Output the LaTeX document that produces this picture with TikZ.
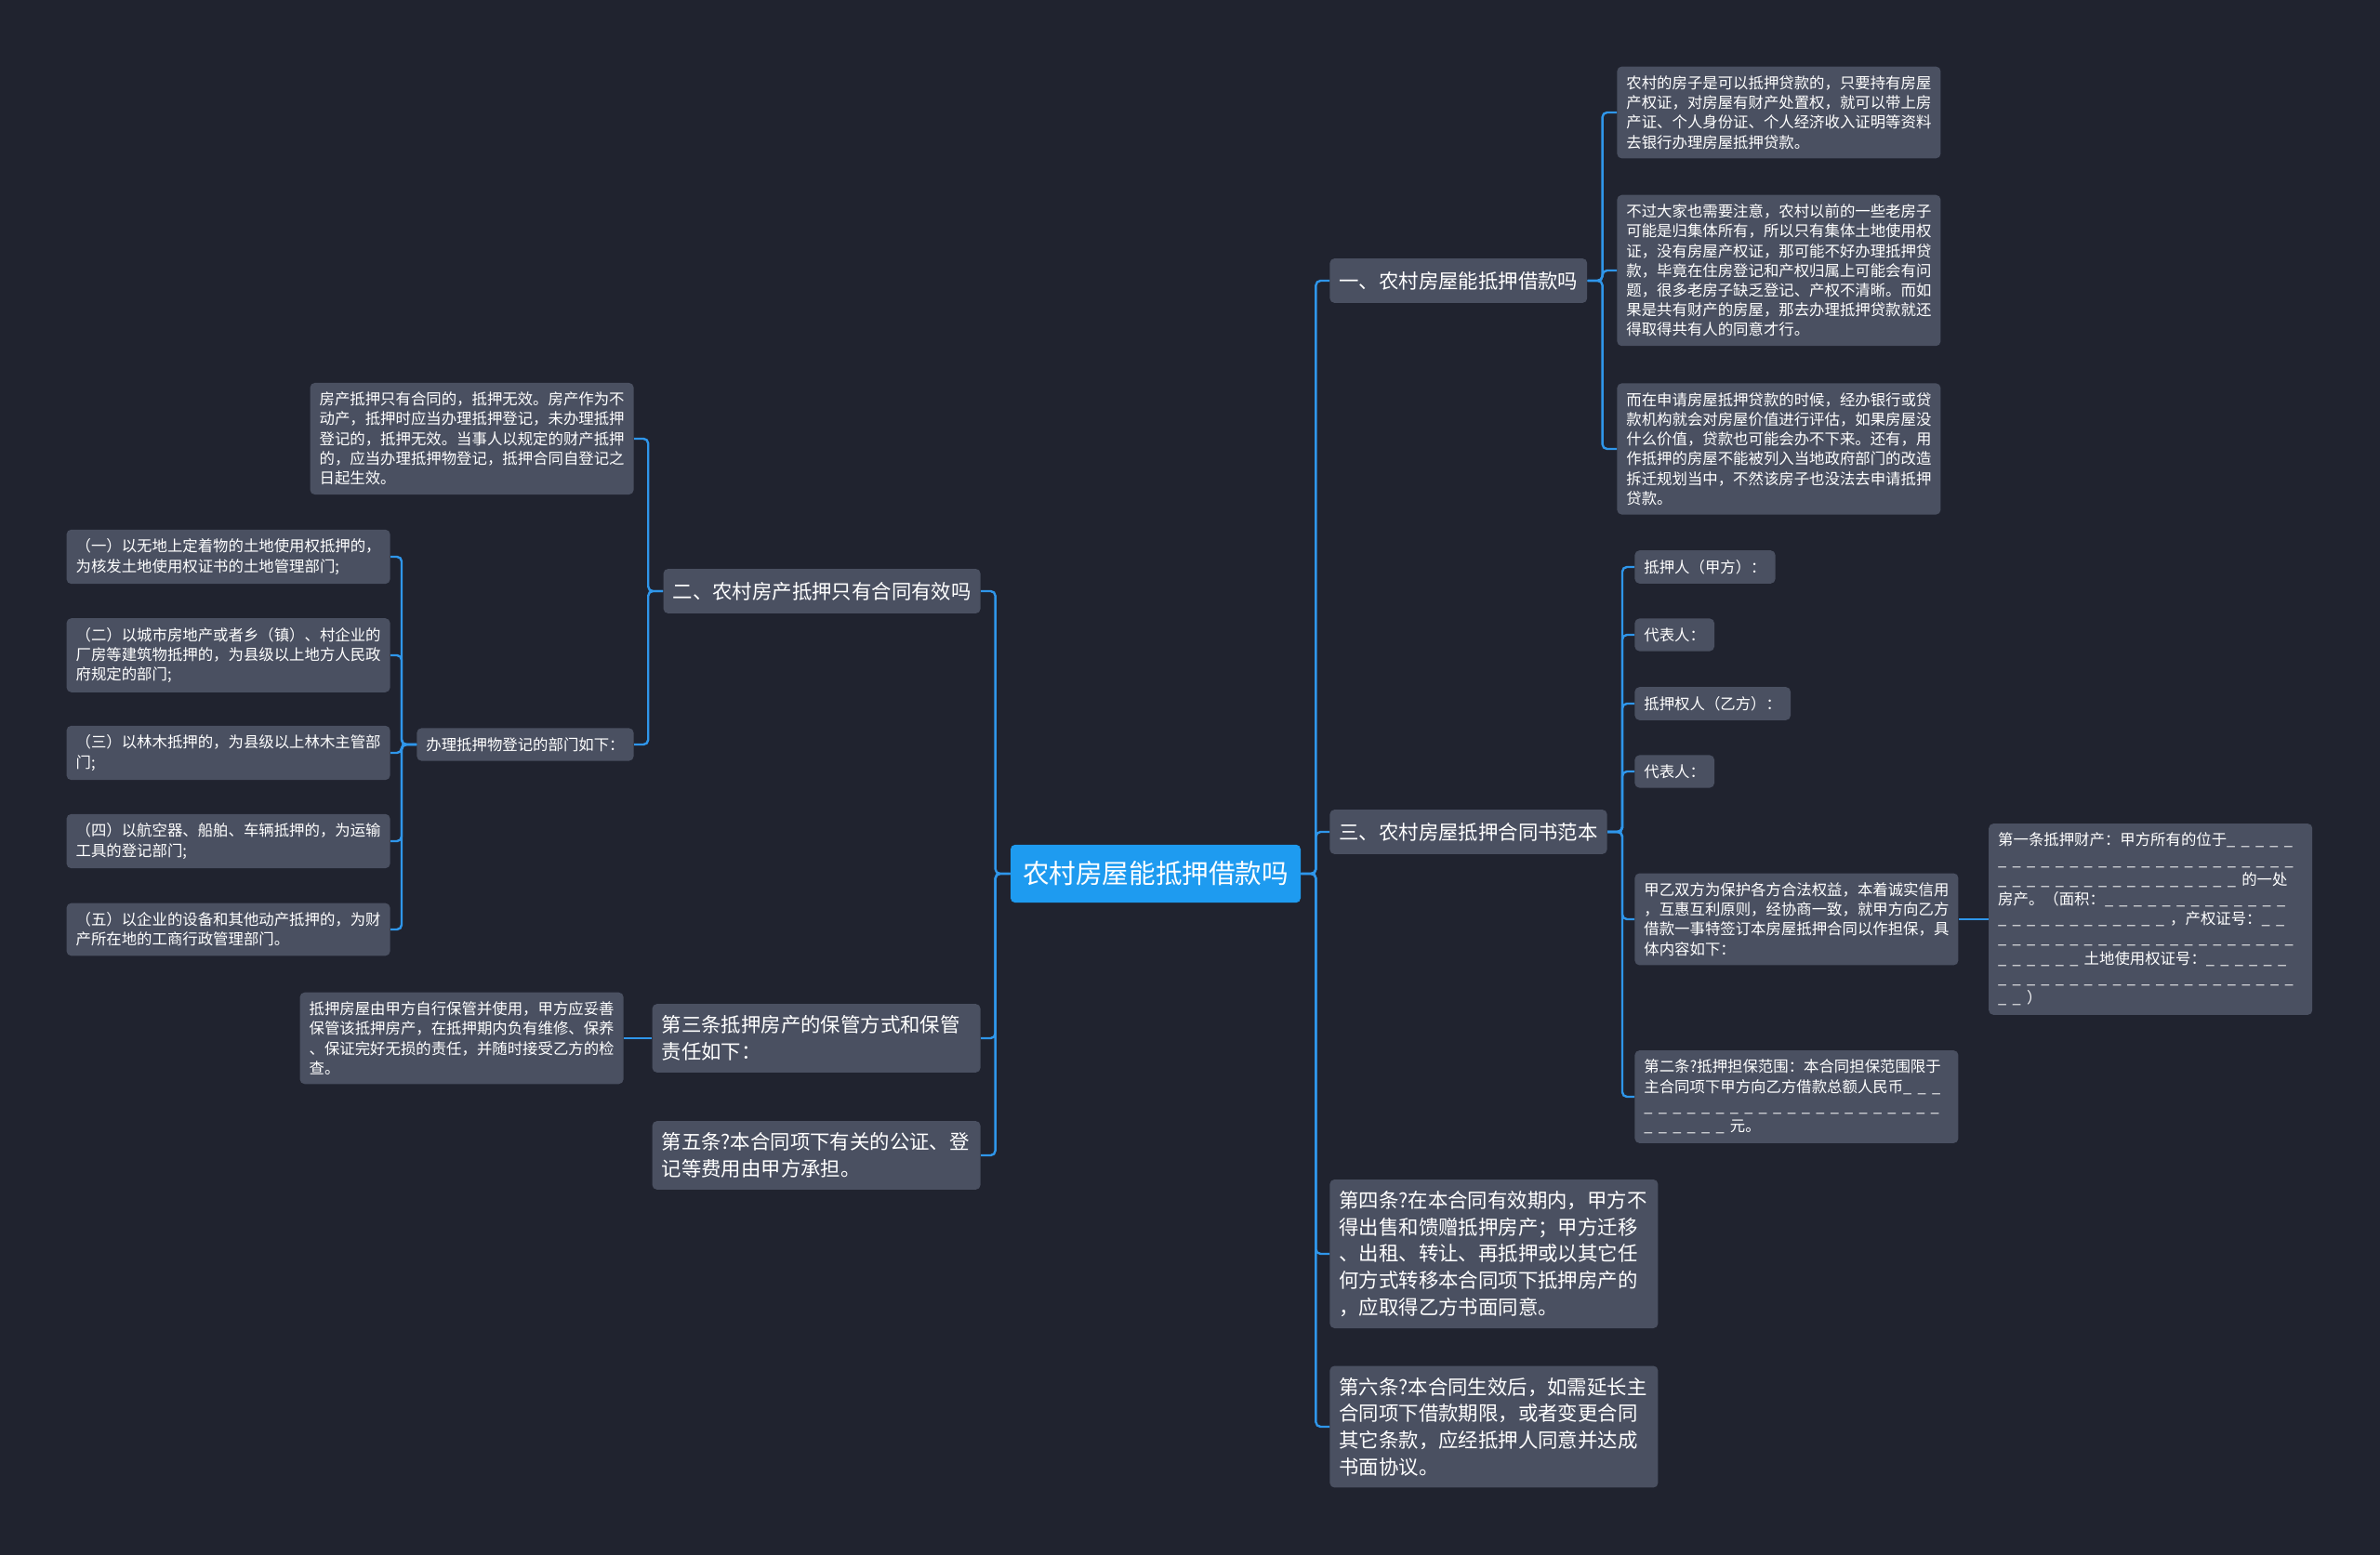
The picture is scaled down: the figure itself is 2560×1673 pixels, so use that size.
\documentclass[tikz,border=0pt]{standalone}
\usepackage{fontspec}
\newfontfamily\cjk{Noto Sans CJK SC}
\usetikzlibrary{positioning}
\definecolor{bgdark}{HTML}{20232F}
\definecolor{boxgray}{HTML}{4A5061}
\definecolor{rootblue}{HTML}{1E9BF0}
\definecolor{linkblue}{HTML}{2F96EA}
\newcommand\blanks[1]{\foreach \k in {1,...,#1}{\makebox[0.94em][l]{\_}}}

\begin{document}
\begin{tikzpicture}[
    x=0.5pt, y=-0.5pt,
    card/.style={fill=boxgray, rounded corners=2.5pt, text=white, inner xsep=5pt, align=left},
    topic/.style={fill=rootblue, rounded corners=2.5pt, text=white, inner xsep=6.5pt, inner ysep=9pt, font=\cjk\fontsize{14.3}{17}\selectfont},
    branch/.style={card, inner ysep=7pt, font=\cjk\fontsize{10.7}{14.3}\selectfont},
    clause/.style={card, inner ysep=6.3pt, text width=166.5pt, font=\cjk\fontsize{10.7}{14.3}\selectfont},
    note/.style={card, inner ysep=5pt, text width=164pt, font=\cjk\fontsize{8.2}{10.6}\selectfont},
    tag/.style={card, inner ysep=5pt, font=\cjk\fontsize{8.2}{10.6}\selectfont},
    link/.style={draw=linkblue, line width=1.2pt, rounded corners=2.5pt},
  ]
  \fill[bgdark] (0,0) rectangle (2560,1673);

  % centre topic
  \node[topic] (root) at (1243,940) {农村房屋能抵押借款吗};

  % right side, first branch
  \node[branch, anchor=west] (q1) at (1430,302) {一、农村房屋能抵押借款吗};
  \node[note, anchor=west] (q1a) at (1739,121) {农村的房子是可以抵押贷款的，只要持有房屋\\产权证，对房屋有财产处置权，就可以带上房\\产证、个人身份证、个人经济收入证明等资料\\去银行办理房屋抵押贷款。};
  \node[note, anchor=west] (q1b) at (1739,291) {不过大家也需要注意，农村以前的一些老房子\\可能是归集体所有，所以只有集体土地使用权\\证，没有房屋产权证，那可能不好办理抵押贷\\款，毕竟在住房登记和产权归属上可能会有问\\题，很多老房子缺乏登记、产权不清晰。而如\\果是共有财产的房屋，那去办理抵押贷款就还\\得取得共有人的同意才行。};
  \node[note, anchor=west] (q1c) at (1739,483) {而在申请房屋抵押贷款的时候，经办银行或贷\\款机构就会对房屋价值进行评估，如果房屋没\\什么价值，贷款也可能会办不下来。还有，用\\作抵押的房屋不能被列入当地政府部门的改造\\拆迁规划当中，不然该房子也没法去申请抵押\\贷款。};

  % right side, contract sample
  \node[branch, anchor=west] (q3) at (1430,895) {三、农村房屋抵押合同书范本};
  \node[tag, anchor=west] (party1) at (1758,610) {抵押人（甲方）：};
  \node[tag, anchor=west] (rep1) at (1758,683) {代表人：};
  \node[tag, anchor=west] (party2) at (1758,757) {抵押权人（乙方）：};
  \node[tag, anchor=west] (rep2) at (1758,830) {代表人：};
  \node[note, anchor=west] (preamble) at (1758,989) {甲乙双方为保护各方合法权益，本着诚实信用\\，互惠互利原则，经协商一致，就甲方向乙方\\借款一事特签订本房屋抵押合同以作担保，具\\体内容如下：};
  \node[note, right=16pt of preamble] (art1) {第一条抵押财产：甲方所有的位于\blanks{5}\\\blanks{21}\\\blanks{17}的一处\\房产。（面积：\blanks{13}\\\blanks{12}，产权证号：\blanks{2}\\\blanks{21}\\\blanks{6}土地使用权证号：\blanks{6}\\\blanks{21}\\\blanks{2}）};
  \node[note, anchor=west] (art2) at (1758,1180) {第二条?抵押担保范围：本合同担保范围限于\\主合同项下甲方向乙方借款总额人民币\blanks{3}\\\blanks{21}\\\blanks{6}元。};
  \node[clause, anchor=west] (art4) at (1430,1349) {第四条?在本合同有效期内，甲方不\\得出售和馈赠抵押房产；甲方迁移\\、出租、转让、再抵押或以其它任\\何方式转移本合同项下抵押房产的\\，应取得乙方书面同意。};
  \node[clause, anchor=west] (art6) at (1430,1535) {第六条?本合同生效后，如需延长主\\合同项下借款期限，或者变更合同\\其它条款，应经抵押人同意并达成\\书面协议。};

  % left side
  \node[branch, anchor=east] (q2) at (1055,636) {二、农村房产抵押只有合同有效吗};
  \node[note, anchor=east] (q2a) at (682,472) {房产抵押只有合同的，抵押无效。房产作为不\\动产，抵押时应当办理抵押登记，未办理抵押\\登记的，抵押无效。当事人以规定的财产抵押\\的，应当办理抵押物登记，抵押合同自登记之\\日起生效。};
  \node[tag, anchor=east] (dept) at (682,801) {办理抵押物登记的部门如下：};
  \node[note, anchor=east] (d1) at (420,599) {（一）以无地上定着物的土地使用权抵押的，\\为核发土地使用权证书的土地管理部门;};
  \node[note, anchor=east] (d2) at (420,705) {（二）以城市房地产或者乡（镇）、村企业的\\厂房等建筑物抵押的，为县级以上地方人民政\\府规定的部门;};
  \node[note, anchor=east] (d3) at (420,810) {（三）以林木抵押的，为县级以上林木主管部\\门;};
  \node[note, anchor=east] (d4) at (420,905) {（四）以航空器、船舶、车辆抵押的，为运输\\工具的登记部门;};
  \node[note, anchor=east] (d5) at (420,1000) {（五）以企业的设备和其他动产抵押的，为财\\产所在地的工商行政管理部门。};
  \node[clause, anchor=east] (art3) at (1055,1117) {第三条抵押房产的保管方式和保管\\责任如下：};
  \node[note, anchor=east] (art3a) at (671,1117) {抵押房屋由甲方自行保管并使用，甲方应妥善\\保管该抵押房产，在抵押期内负有维修、保养\\、保证完好无损的责任，并随时接受乙方的检\\查。};
  \node[clause, anchor=east] (art5) at (1055,1243) {第五条?本合同项下有关的公证、登\\记等费用由甲方承担。};

  % connectors
  \foreach \c in {q1,q3,art4,art6}
    \draw[link] (root.east) -- ++(8pt,0) |- (\c.west);
  \foreach \c in {q2,art3,art5}
    \draw[link] (root.west) -- ++(-8pt,0) |- (\c.east);
  \foreach \c in {q1a,q1b,q1c}
    \draw[link] (q1.east) -- ++(8pt,0) |- (\c.west);
  \foreach \c in {party1,rep1,party2,rep2,preamble,art2}
    \draw[link] (q3.east) -- ++(8pt,0) |- (\c.west);
  \draw[link] (preamble.east) -- (art1.west);
  \foreach \c in {q2a,dept}
    \draw[link] (q2.west) -- ++(-8pt,0) |- (\c.east);
  \foreach \c in {d1,d2,d3,d4,d5}
    \draw[link] (dept.west) -- ++(-8pt,0) |- (\c.east);
  \draw[link] (art3.west) -- (art3a.east);
\end{tikzpicture}
\end{document}
